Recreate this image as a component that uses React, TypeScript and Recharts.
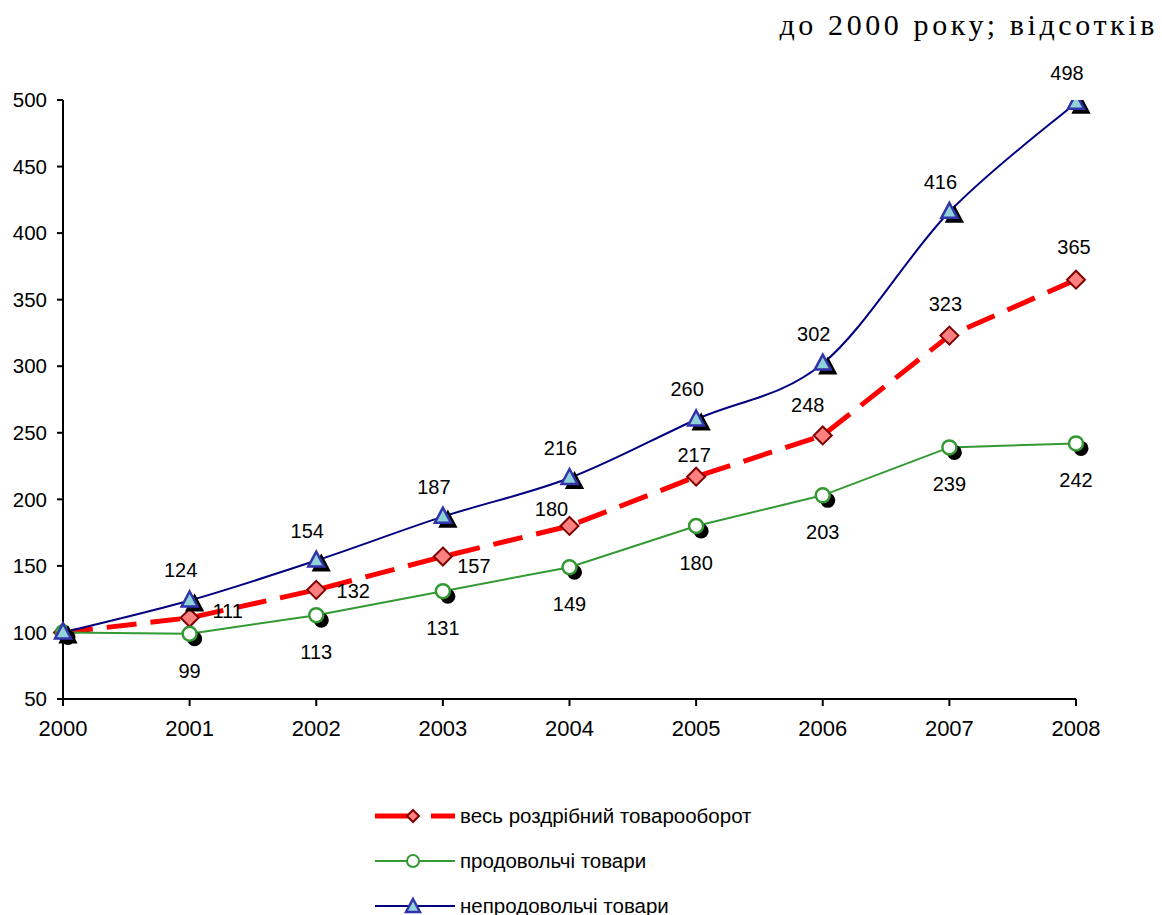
import React from "react";
import { LineChart, Line, XAxis, YAxis } from "recharts";

const years = ["2000", "2001", "2002", "2003", "2004", "2005", "2006", "2007", "2008"];
const totalRetail = [100, 111, 132, 157, 180, 217, 248, 323, 365];
const foodGoods = [100, 99, 113, 131, 149, 180, 203, 239, 242];
const nonFoodGoods = [100, 124, 154, 187, 216, 260, 302, 416, 498];
const yTicks = [50, 100, 150, 200, 250, 300, 350, 400, 450, 500];

const seriesNames = {
  total: "весь роздрібний товарооборот",
  food: "продовольчі товари",
  nonFood: "непродовольчі товари",
};

const data = years.map((year, i) => ({
  year,
  total: totalRetail[i],
  food: foodGoods[i],
  nonFood: nonFoodGoods[i],
}));

// label offsets for the red series (dx, dy), the labels there sit around the point
const totalLabelOffsets = [
  [0, 0],
  [38, -7],
  [37, 1],
  [31, 9],
  [-18, -17],
  [-2, -22],
  [-15, -30],
  [-4, -32],
  [-2, -33],
];

const FONT = "'Liberation Sans', Arial, sans-serif";

// excel-like smoothed line (bezier, 1/6 tangents)
const excelCurve = (context) => {
  let pts = [];
  return {
    areaStart() {},
    areaEnd() {},
    lineStart() {
      pts = [];
    },
    lineEnd() {
      if (!pts.length) return;
      context.moveTo(pts[0][0], pts[0][1]);
      for (let i = 0; i < pts.length - 1; i++) {
        const p0 = pts[i - 1] || pts[i];
        const p1 = pts[i];
        const p2 = pts[i + 1];
        const p3 = pts[i + 2] || p2;
        context.bezierCurveTo(
          p1[0] + (p2[0] - p0[0]) / 6,
          p1[1] + (p2[1] - p0[1]) / 6,
          p2[0] - (p3[0] - p1[0]) / 6,
          p2[1] - (p3[1] - p1[1]) / 6,
          p2[0],
          p2[1]
        );
      }
    },
    point(x, y) {
      pts.push([+x, +y]);
    },
  };
};

const DiamondDot = (props) => {
  const { cx, cy, index } = props;
  if (cx == null || cy == null) return null;
  const h = 9;
  return (
    <path
      key={`d-${index}`}
      d={`M${cx},${cy - h} L${cx + h},${cy} L${cx},${cy + h} L${cx - h},${cy} Z`}
      fill="#ff8080"
      stroke="#800000"
      strokeWidth={2}
    />
  );
};

const CircleDot = (props) => {
  const { cx, cy, index } = props;
  if (cx == null || cy == null) return null;
  return (
    <g key={`c-${index}`}>
      <circle cx={cx + 5} cy={cy + 5} r={7.5} fill="#000" />
      <circle cx={cx} cy={cy} r={7} fill="#fff" stroke="#339933" strokeWidth={2.5} />
    </g>
  );
};

const triPath = (x, y) => `M${x},${y - 9} L${x + 8},${y + 6} L${x - 8},${y + 6} Z`;

const TriangleDot = (props) => {
  const { cx, cy, index } = props;
  if (cx == null || cy == null) return null;
  return (
    <g key={`t-${index}`}>
      <path d={triPath(cx + 5, cy + 4)} fill="#000" stroke="#000" strokeWidth={2} />
      <path d={triPath(cx, cy)} fill="#8ed3d8" stroke="#3333aa" strokeWidth={2.5} />
    </g>
  );
};

const makeLabel = (getOffset) => (props) => {
  const { x, y, value, index } = props;
  if (index === 0) return null;
  const [dx, dy] = getOffset(index);
  return (
    <text
      key={`l-${index}-${value}`}
      x={x + dx}
      y={y + dy}
      textAnchor="middle"
      dominantBaseline="central"
      fontFamily={FONT}
      fontSize={20}
      fill="#000"
    >
      {value}
    </text>
  );
};

const totalLabel = makeLabel((i) => totalLabelOffsets[i]);
const foodLabel = makeLabel(() => [0, 37]);
const nonFoodLabel = makeLabel(() => [-9, -30]);

const LegendRow = ({ kind, text }) => {
  let icon;
  if (kind === "total") {
    icon = (
      <svg width={84} height={20}>
        <line x1={2} y1={10} x2={36} y2={10} stroke="#ff0000" strokeWidth={5} />
        <line x1={58} y1={10} x2={82} y2={10} stroke="#ff0000" strokeWidth={5} />
        <path d="M40,4 L46,10 L40,16 L34,10 Z" fill="#ff8080" stroke="#800000" strokeWidth={2} />
      </svg>
    );
  } else if (kind === "food") {
    icon = (
      <svg width={84} height={20}>
        <line x1={2} y1={10} x2={82} y2={10} stroke="#339933" strokeWidth={2} />
        <circle cx={40} cy={10} r={6} fill="#fff" stroke="#339933" strokeWidth={2} />
      </svg>
    );
  } else {
    icon = (
      <svg width={84} height={20}>
        <line x1={2} y1={10} x2={82} y2={10} stroke="#000080" strokeWidth={2} />
        <path d="M40,3 L47,16 L33,16 Z" fill="#8ed3d8" stroke="#3333aa" strokeWidth={2.5} />
      </svg>
    );
  }
  return (
    <div style={{ display: "flex", alignItems: "center", height: 45 }}>
      {icon}
      <span style={{ marginLeft: 3, fontFamily: FONT, fontSize: 20.5, color: "#000" }}>{text}</span>
    </div>
  );
};

export default function App() {
  return (
    <div style={{ position: "absolute", left: 0, top: 0, width: 1162, height: 915, background: "#fff" }}>
      <div
        style={{
          position: "absolute",
          right: 4,
          top: 7,
          fontFamily: "'Liberation Serif', 'Times New Roman', serif",
          fontSize: 30,
          letterSpacing: 3.6,
          lineHeight: "36px",
          color: "#000",
          whiteSpace: "nowrap",
        }}
      >
        до 2000 року; відсотків
      </div>
      <LineChart
        width={1162}
        height={915}
        data={data}
        margin={{ top: 100, right: 86, left: 8, bottom: 156 }}
      >
        <XAxis
          dataKey="year"
          axisLine={{ stroke: "#000", strokeWidth: 2 }}
          tickLine={{ stroke: "#000", strokeWidth: 2 }}
          tickSize={7}
          tickMargin={14}
          height={60}
          tick={{ fill: "#000", fontSize: 22, fontFamily: FONT }}
          interval={0}
        />
        <YAxis
          domain={[50, 500]}
          ticks={yTicks}
          width={55}
          axisLine={{ stroke: "#000", strokeWidth: 2 }}
          tickLine={{ stroke: "#000", strokeWidth: 2 }}
          tickSize={6}
          tickMargin={10}
          tick={{ fill: "#000", fontSize: 20.5, fontFamily: FONT }}
          interval={0}
          allowDataOverflow
        />
        <Line
          dataKey="total"
          name={seriesNames.total}
          type="linear"
          stroke="#ff0000"
          strokeWidth={5}
          strokeDasharray="30 14"
          dot={DiamondDot}
          label={totalLabel}
          isAnimationActive={false}
        />
        <Line
          dataKey="food"
          name={seriesNames.food}
          type="linear"
          stroke="#339933"
          strokeWidth={2}
          dot={CircleDot}
          label={foodLabel}
          isAnimationActive={false}
        />
        <Line
          dataKey="nonFood"
          name={seriesNames.nonFood}
          type={excelCurve}
          stroke="#000080"
          strokeWidth={2}
          dot={TriangleDot}
          label={nonFoodLabel}
          isAnimationActive={false}
        />
      </LineChart>
      <div style={{ position: "absolute", left: 373, top: 793 }}>
        <LegendRow kind="total" text={seriesNames.total} />
        <LegendRow kind="food" text={seriesNames.food} />
        <LegendRow kind="nonFood" text={seriesNames.nonFood} />
      </div>
    </div>
  );
}
